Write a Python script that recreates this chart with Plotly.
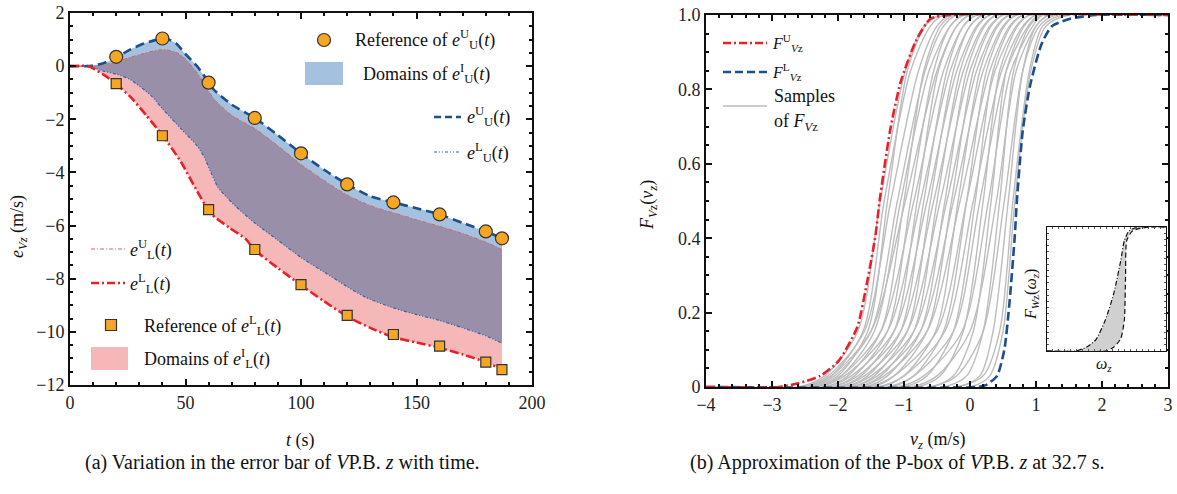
import plotly.graph_objects as go

# ---------------- (a) data ----------------
t_ref = [20, 40, 60, 80, 100, 120, 140, 160, 180, 187]
ref_upper = [0.35, 1.04, -0.62, -1.95, -3.28, -4.45, -5.13, -5.58, -6.22, -6.48]
ref_lower = [-0.66, -2.62, -5.40, -6.90, -8.22, -9.38, -10.10, -10.54, -11.14, -11.42]

t_uu = [0, 8, 14, 20, 26, 32, 38, 42, 46, 50, 55, 60, 62, 70, 80, 90, 100, 110, 120, 130, 140, 150, 160, 170, 180, 187]
e_uu = [0, 0, 0.10, 0.32, 0.62, 0.85, 1.00, 1.02, 0.85, 0.45, 0.00, -0.60, -0.86, -1.45, -1.95, -2.60, -3.28, -3.90, -4.45, -4.90, -5.13, -5.35, -5.58, -5.90, -6.22, -6.48]

t_ul = [0, 8, 15, 20, 26, 35, 40, 48, 55, 58, 61, 64, 68, 72, 80, 90, 100, 110, 120, 128, 140, 150, 160, 170, 180, 187]
e_ul = [0, 0, -0.20, -0.30, -0.50, -1.10, -1.60, -2.35, -3.00, -3.40, -4.00, -4.55, -4.95, -5.30, -5.90, -6.55, -7.20, -7.75, -8.30, -8.70, -9.10, -9.35, -9.57, -9.85, -10.15, -10.43]

t_lu = [0, 8, 15, 20, 26, 32, 38, 42, 46, 50, 55, 60, 63, 70, 80, 90, 100, 110, 120, 130, 140, 150, 160, 170, 180, 187]
e_lu = [0, 0, 0.06, 0.16, 0.33, 0.48, 0.60, 0.61, 0.52, 0.27, -0.24, -0.95, -1.30, -1.85, -2.35, -3.00, -3.70, -4.30, -4.85, -5.25, -5.52, -5.78, -6.03, -6.30, -6.62, -6.90]

t_ll = [0, 8, 15, 20, 26, 33, 40, 48, 55, 61, 69, 76, 80, 90, 100, 110, 120, 130, 140, 150, 160, 170, 180, 187]
e_ll = [0, 0, -0.35, -0.68, -1.14, -1.85, -2.60, -3.60, -4.70, -5.55, -6.08, -6.50, -6.92, -7.60, -8.24, -8.85, -9.42, -9.85, -10.20, -10.40, -10.60, -10.85, -11.14, -11.42]

# ---------------- (b) data ----------------
fu_x = [-4, -2.9, -2.6, -2.27, -1.99, -1.71, -1.55, -1.43, -1.37, -1.21, -1.05, -0.82, -0.60, -0.32, 3]
fu_y = [0, 0, 0.01, 0.03, 0.07, 0.16, 0.29, 0.41, 0.50, 0.69, 0.82, 0.93, 0.99, 1.0, 1.0]
fl_x = [-4, 0.10, 0.24, 0.41, 0.52, 0.60, 0.68, 0.71, 0.80, 0.91, 1.08, 1.24, 1.52, 1.91, 3]
fl_y = [0, 0, 0.005, 0.03, 0.10, 0.23, 0.41, 0.50, 0.69, 0.81, 0.92, 0.97, 0.99, 1.0, 1.0]

sample_levels = [0, 0, 0.03, 0.15, 0.5, 0.85, 0.97, 1.0, 1.0]
samples_x = [
    [-2.60, -2.20, -1.70, -1.36, -0.98, -0.70, -0.45],
    [-2.50, -2.10, -1.62, -1.30, -0.90, -0.60, -0.40],
    [-2.55, -2.15, -1.60, -1.20, -0.78, -0.50, -0.30],
    [-2.40, -2.00, -1.55, -1.25, -0.95, -0.68, -0.45],
    [-2.45, -2.05, -1.50, -1.10, -0.68, -0.40, -0.20],
    [-2.30, -1.95, -1.45, -1.05, -0.62, -0.30, -0.10],
    [-2.50, -2.10, -1.50, -0.98, -0.50, -0.20, 0.00],
    [-2.20, -1.85, -1.35, -1.00, -0.70, -0.45, -0.25],
    [-2.35, -1.95, -1.35, -0.85, -0.40, -0.10, 0.10],
    [-2.10, -1.75, -1.25, -0.90, -0.55, -0.30, -0.10],
    [-2.30, -1.90, -1.25, -0.75, -0.30, 0.00, 0.20],
    [-2.00, -1.65, -1.15, -0.80, -0.48, -0.20, 0.00],
    [-2.20, -1.80, -1.15, -0.65, -0.20, 0.10, 0.30],
    [-1.90, -1.55, -1.05, -0.70, -0.35, -0.10, 0.10],
    [-2.10, -1.70, -1.05, -0.55, -0.10, 0.20, 0.40],
    [-1.80, -1.45, -0.95, -0.60, -0.25, 0.00, 0.20],
    [-2.00, -1.60, -0.95, -0.45, 0.00, 0.30, 0.50],
    [-1.70, -1.35, -0.85, -0.50, -0.15, 0.12, 0.30],
    [-1.90, -1.50, -0.85, -0.35, 0.10, 0.40, 0.60],
    [-1.60, -1.25, -0.75, -0.38, -0.05, 0.22, 0.40],
    [-1.80, -1.40, -0.75, -0.25, 0.20, 0.50, 0.70],
    [-1.50, -1.15, -0.65, -0.28, 0.05, 0.32, 0.50],
    [-1.70, -1.30, -0.65, -0.15, 0.30, 0.60, 0.80],
    [-1.35, -1.00, -0.52, -0.18, 0.15, 0.42, 0.60],
    [-1.55, -1.15, -0.50, -0.05, 0.38, 0.70, 0.90],
    [-1.20, -0.85, -0.40, -0.05, 0.25, 0.52, 0.70],
    [-1.40, -1.00, -0.38, 0.05, 0.48, 0.80, 1.00],
    [-1.00, -0.65, -0.25, 0.08, 0.35, 0.62, 0.80],
    [-1.25, -0.85, -0.25, 0.15, 0.55, 0.88, 1.05],
    [-0.80, -0.45, -0.10, 0.20, 0.45, 0.72, 0.90],
    [-1.10, -0.70, -0.12, 0.28, 0.62, 0.95, 1.10],
    [-0.60, -0.25, 0.05, 0.32, 0.55, 0.82, 1.00],
    [-0.90, -0.50, 0.00, 0.40, 0.70, 1.00, 1.20],
    [-0.40, -0.05, 0.20, 0.45, 0.66, 0.90, 1.10],
    [-0.60, -0.20, 0.20, 0.52, 0.80, 1.05, 1.30],
    [-0.20, 0.15, 0.35, 0.58, 0.80, 1.00, 1.20],
    [-0.20, 0.20, 0.45, 0.65, 0.90, 1.10, 1.40],
    [0.00, 0.30, 0.50, 0.68, 0.92, 1.15, 1.50],
]

# inset
w_up_x = [0, 0.24, 0.33, 0.41, 0.49, 0.56, 0.62, 0.65, 0.69, 0.77, 1.0]
w_up_y = [0, 0, 0.03, 0.09, 0.25, 0.46, 0.73, 0.89, 0.97, 1.0, 1.0]
w_lo_x = [0, 0.49, 0.56, 0.62, 0.65, 0.66, 0.67, 0.72, 0.86, 1.0]
w_lo_y = [0, 0, 0.03, 0.10, 0.25, 0.60, 0.89, 0.97, 1.0, 1.0]

# ---------------- styling ----------------
W, H = 1177, 494
FONT = "'Liberation Serif', 'Times New Roman', serif"
BLUE = "#1c4f8e"
RED = "#e8202a"
RED_THIN = "#e0605e"
BLUE_THIN = "#2a64b0"
ORANGE = "#f6a623"
C_BLUE = "#a4c2df"
C_PINK = "#f5b7b7"
C_PURP = "#9a8fa9"
GRAY = "#bdbdbd"


def px(x):
    return x / W


def py(y):
    return 1 - y / H


fig = go.Figure()
SM = 0.6

# domain fills (a)
fig.add_trace(go.Scatter(x=t_ll, y=e_ll, mode="lines", line=dict(width=0, shape="spline", smoothing=SM),
                         showlegend=False, hoverinfo="skip", xaxis="x", yaxis="y"))
fig.add_trace(go.Scatter(x=t_lu, y=e_lu, mode="lines", line=dict(width=0, shape="spline", smoothing=SM),
                         fill="tonexty", fillcolor=C_PINK, showlegend=False, hoverinfo="skip", xaxis="x", yaxis="y"))
fig.add_trace(go.Scatter(x=t_ul, y=e_ul, mode="lines", line=dict(width=0, shape="spline", smoothing=SM),
                         showlegend=False, hoverinfo="skip", xaxis="x", yaxis="y"))
fig.add_trace(go.Scatter(x=t_uu, y=e_uu, mode="lines", line=dict(width=0, shape="spline", smoothing=SM),
                         fill="tonexty", fillcolor=C_BLUE, showlegend=False, hoverinfo="skip", xaxis="x", yaxis="y"))
fig.add_trace(go.Scatter(x=t_ul, y=e_ul, mode="lines", line=dict(width=0, shape="spline", smoothing=SM),
                         showlegend=False, hoverinfo="skip", xaxis="x", yaxis="y"))
fig.add_trace(go.Scatter(x=t_lu, y=e_lu, mode="lines", line=dict(width=0, shape="spline", smoothing=SM),
                         fill="tonexty", fillcolor=C_PURP, showlegend=False, hoverinfo="skip", xaxis="x", yaxis="y"))

# lines (a)
fig.add_trace(go.Scatter(x=t_lu, y=e_lu, mode="lines",
                         line=dict(color=RED_THIN, width=1, dash="4px,2px,1px,2px", shape="spline", smoothing=SM),
                         showlegend=False, xaxis="x", yaxis="y"))
fig.add_trace(go.Scatter(x=t_ul, y=e_ul, mode="lines",
                         line=dict(color=BLUE_THIN, width=1.2, dash="3px,2px,1px,2px,1px,2px", shape="spline", smoothing=SM),
                         showlegend=False, xaxis="x", yaxis="y"))
fig.add_trace(go.Scatter(x=t_uu, y=e_uu, mode="lines",
                         line=dict(color=BLUE, width=2.6, dash="9px,5px", shape="spline", smoothing=SM),
                         showlegend=False, xaxis="x", yaxis="y"))
fig.add_trace(go.Scatter(x=t_ll, y=e_ll, mode="lines",
                         line=dict(color=RED, width=2.6, dash="9px,3px,2px,3px", shape="spline", smoothing=SM),
                         showlegend=False, xaxis="x", yaxis="y"))
fig.add_trace(go.Scatter(x=t_ref, y=ref_upper, mode="markers",
                         marker=dict(symbol="circle", size=13, color=ORANGE, line=dict(color="#333", width=1.2)),
                         showlegend=False, xaxis="x", yaxis="y"))
fig.add_trace(go.Scatter(x=t_ref, y=ref_lower, mode="markers",
                         marker=dict(symbol="square", size=10, color=ORANGE, line=dict(color="#333", width=1.2)),
                         showlegend=False, xaxis="x", yaxis="y"))

# (b) samples
for s in samples_x:
    xs = [-4] + s + [3]
    fig.add_trace(go.Scatter(x=xs, y=sample_levels, mode="lines",
                             line=dict(color=GRAY, width=1.4, shape="spline", smoothing=0.8),
                             showlegend=False, hoverinfo="skip", xaxis="x2", yaxis="y2"))
fig.add_trace(go.Scatter(x=fl_x, y=fl_y, mode="lines",
                         line=dict(color=BLUE, width=2.6, dash="9px,4px", shape="spline", smoothing=0.6),
                         showlegend=False, xaxis="x2", yaxis="y2"))
fig.add_trace(go.Scatter(x=fu_x, y=fu_y, mode="lines",
                         line=dict(color=RED, width=2.6, dash="9px,3px,2px,3px", shape="spline", smoothing=0.6),
                         showlegend=False, xaxis="x2", yaxis="y2"))

# inset
fig.add_trace(go.Scatter(x=w_lo_x, y=w_lo_y, mode="lines",
                         line=dict(color="#111", width=1.2, dash="5px,3px", shape="spline", smoothing=0.6),
                         showlegend=False, xaxis="x3", yaxis="y3"))
fig.add_trace(go.Scatter(x=w_up_x, y=w_up_y, mode="lines",
                         line=dict(color="#111", width=1.2, dash="5px,2px,1px,2px", shape="spline", smoothing=0.6),
                         fill="tonexty", fillcolor="rgba(200,200,200,0.85)",
                         showlegend=False, xaxis="x3", yaxis="y3"))

tickfont = dict(family=FONT, size=18, color="#222")
ax_common = dict(showline=True, linecolor="#111", linewidth=2, mirror="ticks", ticks="inside",
                 ticklen=6, tickwidth=1.5, tickcolor="#111", showgrid=False, zeroline=False,
                 tickfont=tickfont, automargin=False)

fig.update_layout(
    width=W, height=H, margin=dict(l=0, r=0, t=0, b=0, autoexpand=False),
    paper_bgcolor="white", plot_bgcolor="white", showlegend=False,
    font=dict(family=FONT, size=18, color="#111"),
    xaxis=dict(domain=[px(70), px(532)], range=[0, 200], tickvals=[0, 50, 100, 150, 200],
               minor=dict(dtick=10, ticks="inside", ticklen=3, tickcolor="#111"), anchor="y", **ax_common),
    yaxis=dict(domain=[py(385), py(13)], range=[-12, 2], dtick=2,
               minor=dict(dtick=0.5, ticks="inside", ticklen=3, tickcolor="#111"), anchor="x", **ax_common),
    xaxis2=dict(domain=[px(706), px(1168)], range=[-4, 3], dtick=1,
                minor=dict(dtick=0.2, ticks="inside", ticklen=3, tickcolor="#111"), anchor="y2", **ax_common),
    yaxis2=dict(domain=[py(387), py(15)], range=[0, 1], tickvals=[0, 0.2, 0.4, 0.6, 0.8, 1.0],
                ticktext=["0", "0.2", "0.4", "0.6", "0.8", "1.0"],
                minor=dict(dtick=0.05, ticks="inside", ticklen=3, tickcolor="#111"), anchor="x2", **ax_common),
    xaxis3=dict(domain=[px(1047), px(1166)], range=[0, 1], showticklabels=False, showline=True,
                linecolor="#111", linewidth=1, mirror="ticks", ticks="inside", ticklen=2, dtick=0.05,
                tickcolor="#555", showgrid=False, zeroline=False, anchor="y3", automargin=False),
    yaxis3=dict(domain=[py(351), py(227)], range=[0, 1], showticklabels=False, showline=True,
                linecolor="#111", linewidth=1, mirror="ticks", ticks="inside", ticklen=2, dtick=0.05,
                tickcolor="#555", showgrid=False, zeroline=False, anchor="x3", automargin=False),
)

shapes = []
ann = []


def text(x, y, s, size=18, xa="left", angle=0):
    ann.append(dict(x=px(x), y=py(y), xref="paper", yref="paper", text=s, showarrow=False,
                    xanchor=xa, yanchor="middle", textangle=angle,
                    font=dict(family=FONT, size=size, color="#111")))


def hline(x0, x1, y, color, width, dash):
    shapes.append(dict(type="line", xref="paper", yref="paper", x0=px(x0), x1=px(x1), y0=py(y), y1=py(y),
                       line=dict(color=color, width=width, dash=dash)))


def box(x0, y0, x1, y1, color):
    shapes.append(dict(type="rect", xref="paper", yref="paper", x0=px(x0), x1=px(x1), y0=py(y1), y1=py(y0),
                       fillcolor=color, line=dict(width=0)))


eUU = "<i>e</i><sup>U</sup><sub>U</sub>(<i>t</i>)"
eUL = "<i>e</i><sup>L</sup><sub>U</sub>(<i>t</i>)"
eUI = "<i>e</i><sup>I</sup><sub>U</sub>(<i>t</i>)"
eLU = "<i>e</i><sup>U</sup><sub>L</sub>(<i>t</i>)"
eLL = "<i>e</i><sup>L</sup><sub>L</sub>(<i>t</i>)"
eLI = "<i>e</i><sup>I</sup><sub>L</sub>(<i>t</i>)"

# legend (a) top
shapes.append(dict(type="circle", xref="paper", yref="paper", x0=px(317.5), x1=px(330.5), y0=py(46.5), y1=py(33.5),
                   fillcolor=ORANGE, line=dict(color="#333", width=1.2)))
text(353, 40, "Reference of " + eUU)
box(305, 62, 343, 85, C_BLUE)
text(361, 73, "Domains of " + eUI)
hline(434, 461, 117, BLUE, 2.6, "7px,4px")
text(465, 117, eUU)
hline(434, 461, 152, BLUE_THIN, 1.2, "3px,2px,1px,2px,1px,2px")
text(465, 152, eUL)
# legend (a) bottom
hline(91, 125, 249, RED_THIN, 1, "4px,2px,1px,2px")
text(128, 249, eLU)
hline(91, 125, 283, RED, 2.6, "8px,3px,2px,3px")
text(128, 283, eLL)
shapes.append(dict(type="rect", xref="paper", yref="paper", x0=px(105.5), x1=px(116.5), y0=py(330.5), y1=py(319.5),
                   fillcolor=ORANGE, line=dict(color="#333", width=1.2)))
text(142, 325, "Reference of " + eLL)
box(91, 347, 128, 370, C_PINK)
text(142, 358, "Domains of " + eLI)

# legend (b)
hline(723, 767, 43, RED, 2.6, "8px,3px,2px,3px")
text(770, 43, "<i>F</i><sup>U</sup><sub><i>V</i>z</sub>", size=16)
hline(723, 767, 72, BLUE, 2.6, "8px,4px")
text(770, 72, "<i>F</i><sup>L</sup><sub><i>V</i>z</sub>", size=16)
hline(723, 767, 106, GRAY, 1.6, "solid")
text(772, 96, "Samples")
text(772, 123, "of <i>F</i><sub><i>V</i>z</sub>")

# axis titles
text(300, 440, "<i>t</i> (s)", xa="center")
text(937, 440, "<i>v</i><sub><i>z</i></sub> (m/s)", xa="center")
text(18, 227, "<i>e</i><sub><i>Vz</i></sub> (m/s)", xa="center", angle=-90)
text(648, 205, "<i>F</i><sub><i>V</i>z</sub>(<i>v</i><sub><i>z</i></sub>)", xa="center", angle=-90)
text(1031, 295, "<i>F</i><sub><i>W</i>z</sub>(<i>ω</i><sub><i>z</i></sub>)", size=16, xa="center", angle=-90)
text(1104, 364, "<i>ω</i><sub><i>z</i></sub>", size=16, xa="center")

# captions
text(282, 462, "(a) Variation in the error bar of <i>V</i>P.B. <i>z</i> with time.", size=20, xa="center")
text(897, 462, "(b) Approximation of the P-box of <i>V</i>P.B. <i>z</i> at 32.7 s.", size=20, xa="center")

fig.update_layout(shapes=shapes, annotations=ann)
fig.write_html("out.html", config={"displayModeBar": False},
               post_script="document.body.style.margin='0';document.body.style.overflow='hidden';")
